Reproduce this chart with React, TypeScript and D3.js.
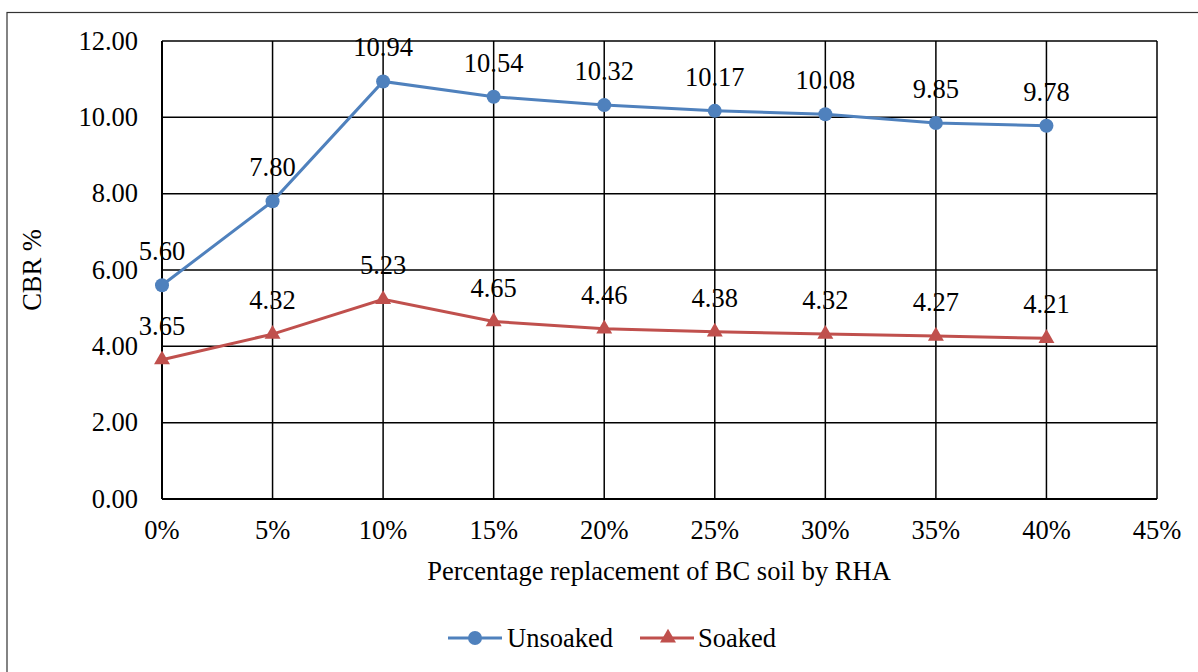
import React from "react";
import * as d3 from "d3";

const categories = [0, 5, 10, 15, 20, 25, 30, 35, 40];
const unsoaked = [5.6, 7.8, 10.94, 10.54, 10.32, 10.17, 10.08, 9.85, 9.78];
const soaked = [3.65, 4.32, 5.23, 4.65, 4.46, 4.38, 4.32, 4.27, 4.21];
const xTicks = [0, 5, 10, 15, 20, 25, 30, 35, 40, 45];
const yTicks = [0, 2, 4, 6, 8, 10, 12];

const BLUE = "#4F81BD";
const RED = "#C0504D";
const FONT = "'Liberation Serif', 'Times New Roman', serif";
const FS = 26.5;

export default function App() {
  const W = 1198, H = 672;
  const left = 162, right = 1157, top = 41, bottom = 499;
  const x = d3.scaleLinear().domain([0, 45]).range([left, right]);
  const y = d3.scaleLinear().domain([0, 12]).range([bottom, top]);
  const line = d3.line<number>().x((_, i) => x(categories[i])).y((d) => y(d));
  const tri = d3.symbol().type(d3.symbolTriangle).size(110)();
  const ts = { fontFamily: FONT };

  return (
    <svg width={W} height={H} style={{ position: "absolute", left: 0, top: 0, fontFamily: FONT }}>
      <rect x={0} y={0} width={W} height={H} fill="#fff" />
      <rect x={7} y={12.5} width={W + 10} height={H + 10} fill="none" stroke="#333" strokeWidth={1.2} />
      {yTicks.map((t) => (
        <g key={"y" + t}>
          <line x1={left} x2={right} y1={y(t)} y2={y(t)} stroke="#000" strokeWidth={1.5} />
          <text x={138} y={y(t) + 8.5} textAnchor="end" fontSize={FS} style={ts}>{t.toFixed(2)}</text>
        </g>
      ))}
      {xTicks.map((t) => (
        <g key={"x" + t}>
          <line x1={x(t)} x2={x(t)} y1={top} y2={bottom} stroke="#000" strokeWidth={1.5} />
          <text x={x(t)} y={539} textAnchor="middle" fontSize={FS} style={ts}>{t + "%"}</text>
        </g>
      ))}
      <line x1={left} x2={right} y1={bottom} y2={bottom} stroke="#000" strokeWidth={2} />
      <line x1={left} x2={left} y1={top} y2={bottom} stroke="#000" strokeWidth={2} />
      <text x={659} y={580} textAnchor="middle" fontSize={FS} style={ts}>Percentage replacement of BC soil by RHA</text>
      <text transform={`translate(41,270) rotate(-90)`} textAnchor="middle" fontSize={FS} style={ts}>CBR %</text>

      <path d={line(unsoaked) || ""} fill="none" stroke={BLUE} strokeWidth={3} />
      <path d={line(soaked) || ""} fill="none" stroke={RED} strokeWidth={3} />
      {unsoaked.map((v, i) => (
        <circle key={"u" + i} cx={x(categories[i])} cy={y(v)} r={7} fill={BLUE} />
      ))}
      {soaked.map((v, i) => (
        <path key={"s" + i} d={tri || ""} transform={`translate(${x(categories[i])},${y(v)})`} fill={RED} />
      ))}
      {unsoaked.map((v, i) => (
        <text key={"ul" + i} x={x(categories[i])} y={y(v) - 25} textAnchor="middle" fontSize={FS} style={ts}>{v.toFixed(2)}</text>
      ))}
      {soaked.map((v, i) => (
        <text key={"sl" + i} x={x(categories[i])} y={y(v) - 25} textAnchor="middle" fontSize={FS} style={ts}>{v.toFixed(2)}</text>
      ))}

      <g>
        <line x1={448} x2={502} y1={638} y2={638} stroke={BLUE} strokeWidth={3} />
        <circle cx={475} cy={638} r={7} fill={BLUE} />
        <text x={507} y={647} fontSize={FS} style={ts}>Unsoaked</text>
        <line x1={640} x2={694} y1={638} y2={638} stroke={RED} strokeWidth={3} />
        <path d={tri || ""} transform="translate(668,638)" fill={RED} />
        <text x={698} y={647} fontSize={FS} style={ts}>Soaked</text>
      </g>
    </svg>
  );
}
